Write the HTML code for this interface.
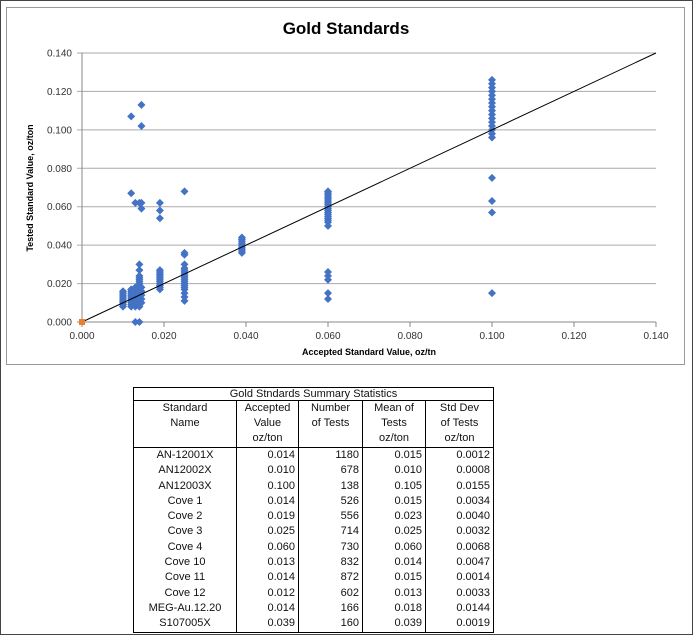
<!DOCTYPE html>
<html><head><meta charset="utf-8">
<style>
body{margin:0;width:693px;height:635px;background:#fff;position:relative;overflow:hidden;font-family:"Liberation Sans",sans-serif}
#frame{position:absolute;left:0;top:0;width:691px;height:633px;border:1px solid #444}
#chartbox{position:absolute;left:6px;top:7px;width:677px;height:356px;border:1px solid #999}
table{position:absolute;left:133px;top:387px;border-collapse:collapse;font-size:11px;color:#111}
td{border-left:1px solid #000;border-right:1px solid #000;padding:0 3px;line-height:15.3px;height:15.3px}
.t td{border:1px solid #000;text-align:center;line-height:12px;height:12px}
.h td{text-align:center;border-bottom:1px solid #000;vertical-align:top;line-height:15px;height:46px}
.n{text-align:center}.r{text-align:right}
tr.last td{border-bottom:1px solid #000}
</style></head><body>
<div id="frame"></div>
<div id="chartbox"></div>
<svg id="chart" width="693" height="380" style="position:absolute;left:0;top:0"></svg>
<table>
<colgroup><col style="width:103px"><col style="width:62px"><col style="width:64px"><col style="width:63px"><col style="width:68px"></colgroup>
<tr class="t"><td colspan="5">Gold Stndards Summary Statistics</td></tr>
<tr class="h"><td>Standard<br>Name</td><td>Accepted<br>Value<br>oz/ton</td><td>Number<br>of Tests</td><td>Mean of<br>Tests<br>oz/ton</td><td>Std Dev<br>of Tests<br>oz/ton</td></tr>
<tr><td class="n">AN-12001X</td><td class="r">0.014</td><td class="r">1180</td><td class="r">0.015</td><td class="r">0.0012</td></tr>
<tr><td class="n">AN12002X</td><td class="r">0.010</td><td class="r">678</td><td class="r">0.010</td><td class="r">0.0008</td></tr>
<tr><td class="n">AN12003X</td><td class="r">0.100</td><td class="r">138</td><td class="r">0.105</td><td class="r">0.0155</td></tr>
<tr><td class="n">Cove 1</td><td class="r">0.014</td><td class="r">526</td><td class="r">0.015</td><td class="r">0.0034</td></tr>
<tr><td class="n">Cove 2</td><td class="r">0.019</td><td class="r">556</td><td class="r">0.023</td><td class="r">0.0040</td></tr>
<tr><td class="n">Cove 3</td><td class="r">0.025</td><td class="r">714</td><td class="r">0.025</td><td class="r">0.0032</td></tr>
<tr><td class="n">Cove 4</td><td class="r">0.060</td><td class="r">730</td><td class="r">0.060</td><td class="r">0.0068</td></tr>
<tr><td class="n">Cove 10</td><td class="r">0.013</td><td class="r">832</td><td class="r">0.014</td><td class="r">0.0047</td></tr>
<tr><td class="n">Cove 11</td><td class="r">0.014</td><td class="r">872</td><td class="r">0.015</td><td class="r">0.0014</td></tr>
<tr><td class="n">Cove 12</td><td class="r">0.012</td><td class="r">602</td><td class="r">0.013</td><td class="r">0.0033</td></tr>
<tr><td class="n">MEG-Au.12.20</td><td class="r">0.014</td><td class="r">166</td><td class="r">0.018</td><td class="r">0.0144</td></tr>
<tr class="last"><td class="n">S107005X</td><td class="r">0.039</td><td class="r">160</td><td class="r">0.039</td><td class="r">0.0019</td></tr>
</table>
<script>
const xTicks=[0,0.02,0.04,0.06,0.08,0.10,0.12,0.14];
const yTicks=[0,0.02,0.04,0.06,0.08,0.10,0.12,0.14];
const groupX=[0.010,0.012,0.013,0.014,0.0145,0.019,0.025,0.039,0.060,0.100];
const groupY=[
[0.008,0.009,0.010,0.011,0.012,0.013,0.014,0.015,0.016],
[0.008,0.009,0.010,0.011,0.012,0.013,0.014,0.015,0.016,0.017,0.067,0.107],
[0.000,0.008,0.009,0.010,0.011,0.012,0.013,0.014,0.015,0.016,0.017,0.018,0.062],
[0.000,0.008,0.010,0.011,0.012,0.013,0.014,0.015,0.016,0.017,0.018,0.019,0.020,0.021,0.022,0.023,0.024,0.027,0.030,0.062],
[0.010,0.012,0.014,0.016,0.018,0.059,0.062,0.102,0.113],
[0.017,0.018,0.019,0.020,0.021,0.022,0.023,0.024,0.025,0.026,0.027,0.054,0.058,0.062],
[0.011,0.013,0.015,0.017,0.018,0.019,0.020,0.021,0.022,0.023,0.024,0.025,0.026,0.027,0.028,0.030,0.035,0.036,0.068],
[0.036,0.037,0.038,0.039,0.040,0.041,0.042,0.043,0.044],
[0.012,0.015,0.022,0.024,0.026,0.050,0.052,0.053,0.054,0.055,0.056,0.057,0.058,0.059,0.060,0.061,0.062,0.063,0.064,0.065,0.066,0.067,0.068],
[0.015,0.057,0.063,0.075,0.096,0.098,0.100,0.102,0.104,0.106,0.108,0.110,0.112,0.114,0.116,0.118,0.120,0.122,0.124,0.126]
];
const refLine=[[0,0],[0.14,0.14]];
const X0=82,X1=656,Y0=322,Y1=53;
const sx=v=>X0+(v-0)/0.14*(X1-X0);
const sy=v=>Y0-(v-0)/0.14*(Y0-Y1);
const svg=document.getElementById('chart');
const NS='http://www.w3.org/2000/svg';
function mk(t,a){const e=document.createElementNS(NS,t);for(const k in a)e.setAttribute(k,a[k]);svg.appendChild(e);return e;}
let t=mk('text',{x:346,y:34,'text-anchor':'middle','font-size':17,'font-weight':'bold',fill:'#000'});t.textContent='Gold Standards';


yTicks.forEach(v=>{
 const g=mk('line',{x1:X0-5,x2:X1,y1:sy(v),y2:sy(v),stroke:v===0?'#888':'#aaa','stroke-width':1});
 
 
 const l=mk('text',{x:X0-10,y:sy(v)+3.5,'text-anchor':'end','font-size':10,fill:'#333'});l.textContent=v.toFixed(3);
 
 
});
mk('line',{x1:X0,x2:X0,y1:Y1,y2:Y0,stroke:'#888'});
xTicks.forEach(v=>{
 const g=mk('line',{x1:sx(v),x2:sx(v),y1:Y0,y2:Y0+5,stroke:'#888'});
 
 
 const l=mk('text',{x:sx(v),y:Y0+17,'text-anchor':'middle','font-size':10,fill:'#333'});l.textContent=v.toFixed(3);
 
 
});
t=mk('text',{x:369,y:355,'text-anchor':'middle','font-size':9,'font-weight':'bold',fill:'#000'});t.textContent='Accepted Standard Value, oz/tn';


t=mk('text',{x:0,y:0,'text-anchor':'middle','font-size':9,'font-weight':'bold',fill:'#000',transform:'translate(33,188) rotate(-90)'});t.textContent='Tested Standard Value, oz/ton';


groupX.forEach((x,i)=>{groupY[i].forEach(y=>{
 const cx=sx(x),cy=sy(y);
 const p=mk('polygon',{points:`${cx},${cy-4} ${cx+4},${cy} ${cx},${cy+4} ${cx-4},${cy}`,fill:'#4472c4'});
 
 
});});
const ln=mk('line',{x1:sx(refLine[0][0]),y1:sy(refLine[0][1]),x2:sx(refLine[1][0]),y2:sy(refLine[1][1]),stroke:'#000','stroke-width':1});


const sq=mk('rect',{x:sx(0)-3,y:sy(0)-3,width:6,height:6,fill:'#ed7d31'});


</script>
</body></html>
